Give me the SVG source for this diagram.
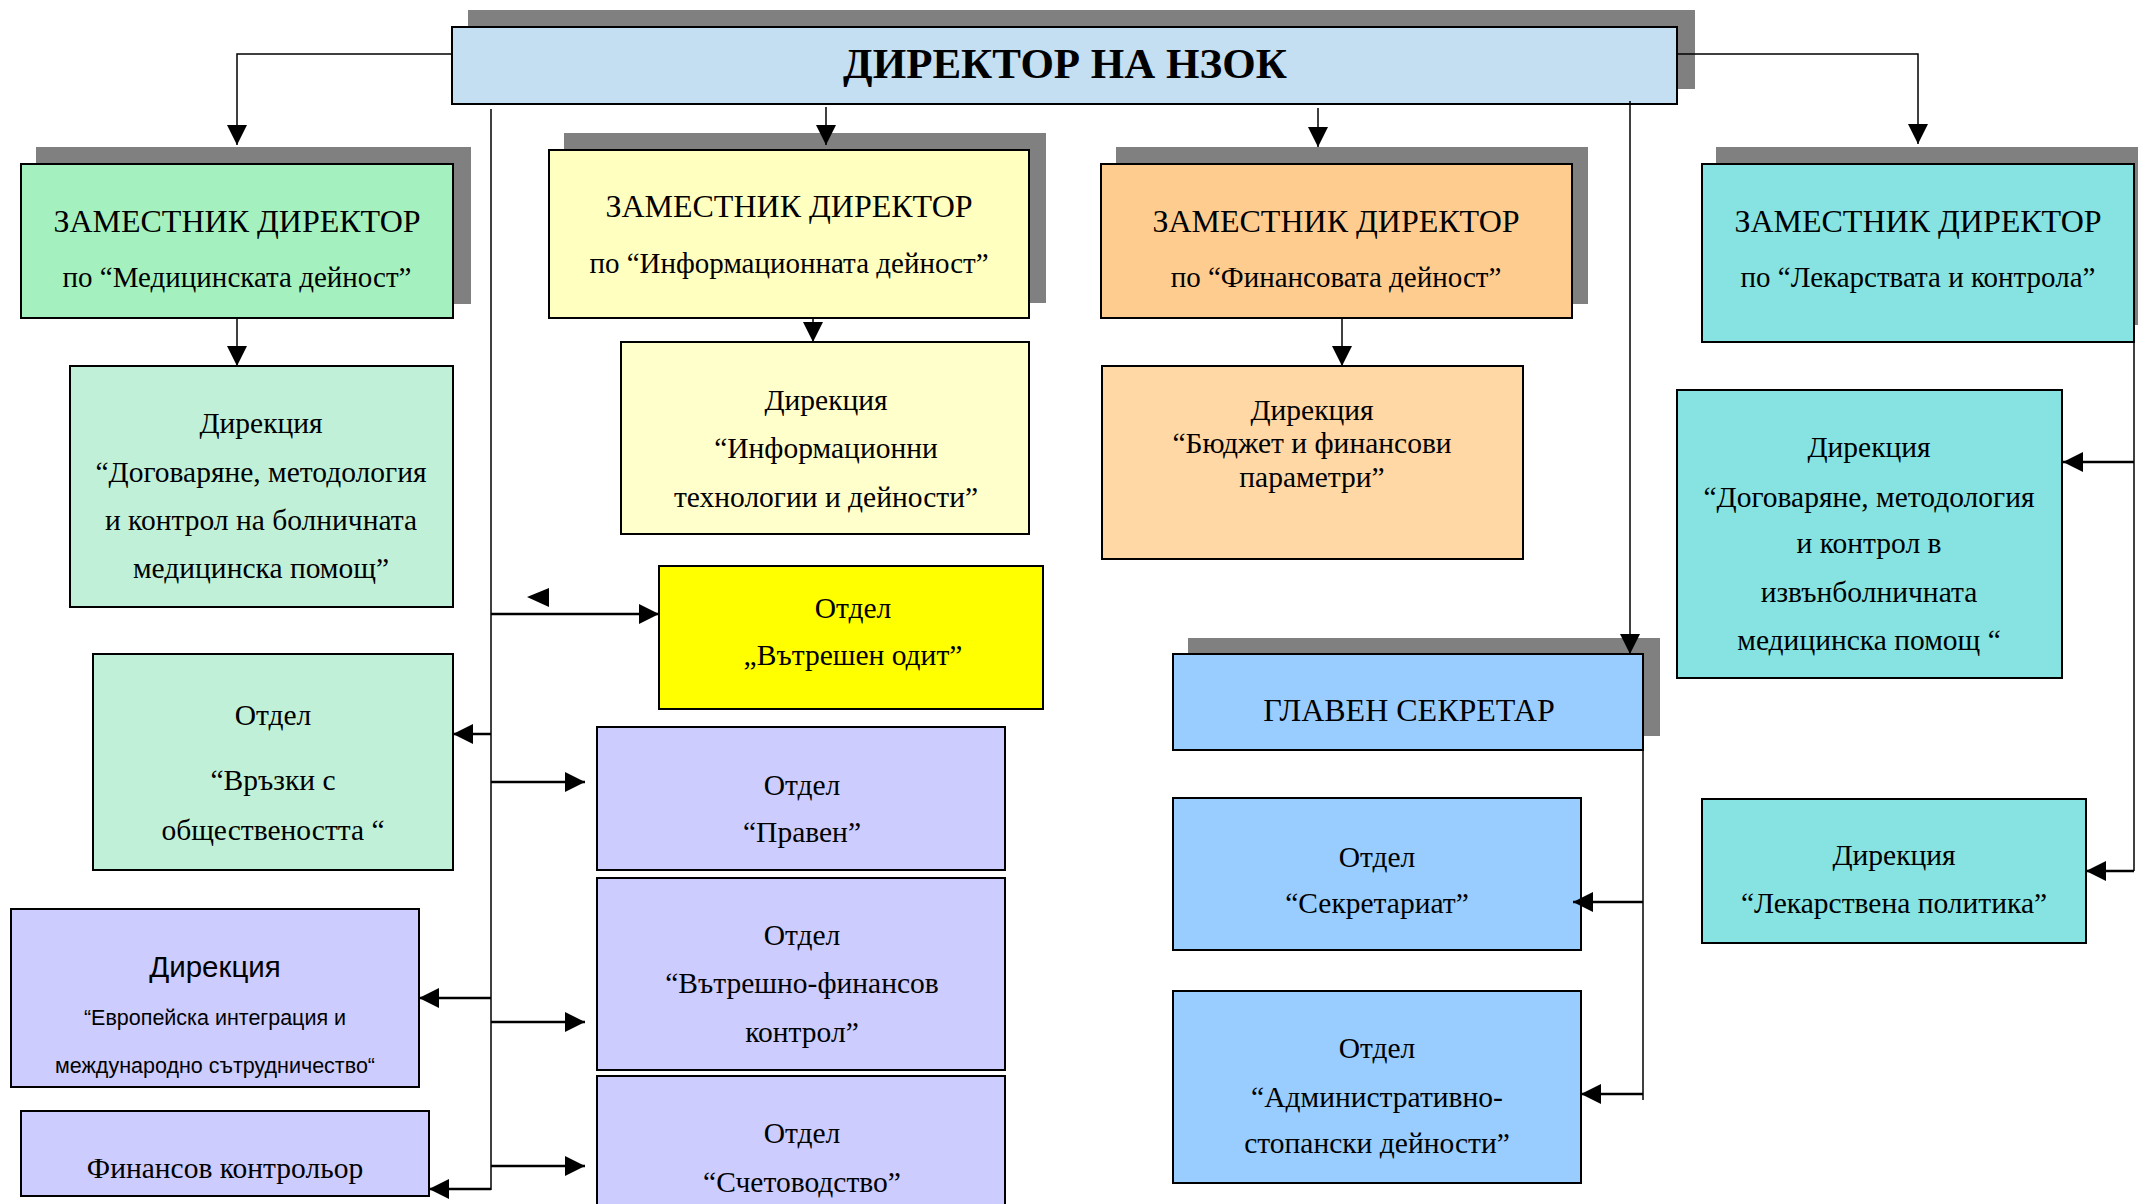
<svg xmlns="http://www.w3.org/2000/svg" width="2138" height="1204" viewBox="0 0 2138 1204">
<defs>
<style>
.shadow{fill:#808080}
.box{stroke:#000;stroke-width:2}
text{font-family:"Liberation Serif","Times New Roman",serif;fill:#000;text-anchor:middle}
.t1{font-size:43px;font-weight:bold}
.t2{font-size:32px}
.t3{font-size:29px}
.t4{font-size:29.5px}
.s1{font-family:"Liberation Sans",Arial,sans-serif;font-size:29.5px}
.s2{font-family:"Liberation Sans",Arial,sans-serif;font-size:21.5px}
.thin{fill:none;stroke:#000;stroke-width:1.5}
.thick{fill:none;stroke:#000;stroke-width:2.5}
</style>
<marker id="ah" viewBox="0 0 20 20" refX="20" refY="10" markerWidth="20" markerHeight="20" markerUnits="userSpaceOnUse" orient="auto"><path d="M0,0 L20,10 L0,20 z" fill="#000"/></marker>
</defs>
<rect width="2138" height="1204" fill="#fff"/>

<g id="director">
<rect class="shadow" x="468" y="10" width="1227" height="79"/>
<rect class="box" x="452" y="27" width="1225" height="77" fill="#C4DEF2"/>
<text class="t1" x="1065" y="78">ДИРЕКТОР НА НЗОК</text>
</g>

<g id="zd-med">
<rect class="shadow" x="36" y="147" width="435" height="157"/>
<rect class="box" x="21" y="164" width="432" height="154" fill="#A5F0BF"/>
<text class="t2" x="237" y="232">ЗАМЕСТНИК ДИРЕКТОР</text>
<text class="t3" x="237" y="287">по “Медицинската дейност”</text>
</g>

<g id="zd-info">
<rect class="shadow" x="564" y="133" width="482" height="170"/>
<rect class="box" x="549" y="150" width="480" height="168" fill="#FFFFC0"/>
<text class="t2" x="789" y="217">ЗАМЕСТНИК ДИРЕКТОР</text>
<text class="t3" x="789" y="273">по “Информационната дейност”</text>
</g>

<g id="zd-fin">
<rect class="shadow" x="1116" y="147" width="472" height="157"/>
<rect class="box" x="1101" y="164" width="471" height="154" fill="#FFCC90"/>
<text class="t2" x="1336" y="232">ЗАМЕСТНИК ДИРЕКТОР</text>
<text class="t3" x="1336" y="287">по “Финансовата дейност”</text>
</g>

<g id="zd-lek">
<rect class="shadow" x="1716" y="147" width="422" height="178"/>
<rect class="box" x="1702" y="164" width="432" height="178" fill="#86E3E1"/>
<text class="t2" x="1918" y="232">ЗАМЕСТНИК ДИРЕКТОР</text>
<text class="t3" x="1918" y="287">по “Лекарствата и контрола”</text>
</g>

<g id="dir-bolnichna">
<rect class="box" x="70" y="366" width="383" height="241" fill="#C0F0D8"/>
<text class="t4" x="261" y="433">Дирекция</text>
<text class="t4" x="261" y="482">“Договаряне, методология</text>
<text class="t4" x="261" y="530">и контрол на болничната</text>
<text class="t4" x="261" y="578">медицинска помощ”</text>
</g>

<g id="dir-it">
<rect class="box" x="621" y="342" width="408" height="192" fill="#FFFFCC"/>
<text class="t4" x="826" y="410">Дирекция</text>
<text class="t4" x="826" y="458">“Информационни</text>
<text class="t4" x="826" y="507">технологии и дейности”</text>
</g>

<g id="dir-budget">
<rect class="box" x="1102" y="366" width="421" height="193" fill="#FFD8A6"/>
<text class="t4" x="1312" y="420">Дирекция</text>
<text class="t4" x="1312" y="453">“Бюджет и финансови</text>
<text class="t4" x="1312" y="487">параметри”</text>
</g>

<g id="dir-izvanbolnichna">
<rect class="box" x="1677" y="390" width="385" height="288" fill="#86E3E1"/>
<text class="t4" x="1869" y="457">Дирекция</text>
<text class="t4" x="1869" y="507">“Договаряне, методология</text>
<text class="t4" x="1869" y="553">и контрол в</text>
<text class="t4" x="1869" y="602">извънболничната</text>
<text class="t4" x="1869" y="650">медицинска помощ “</text>
</g>

<g id="otdel-odit">
<rect class="box" x="659" y="566" width="384" height="143" fill="#FFFF00"/>
<text class="t4" x="853" y="618">Отдел</text>
<text class="t4" x="853" y="665">„Вътрешен одит”</text>
</g>

<g id="otdel-vruzki">
<rect class="box" x="93" y="654" width="360" height="216" fill="#C0F0D8"/>
<text class="t4" x="273" y="725">Отдел</text>
<text class="t4" x="273" y="790">“Връзки с</text>
<text class="t4" x="273" y="840">обществеността “</text>
</g>

<g id="otdel-praven">
<rect class="box" x="597" y="727" width="408" height="143" fill="#CCCCFF"/>
<text class="t4" x="802" y="795">Отдел</text>
<text class="t4" x="802" y="842">“Правен”</text>
</g>

<g id="otdel-vfk">
<rect class="box" x="597" y="878" width="408" height="192" fill="#CCCCFF"/>
<text class="t4" x="802" y="945">Отдел</text>
<text class="t4" x="802" y="993">“Вътрешно-финансов</text>
<text class="t4" x="802" y="1042">контрол”</text>
</g>

<g id="otdel-schet">
<rect class="box" x="597" y="1076" width="408" height="140" fill="#CCCCFF"/>
<text class="t4" x="802" y="1143">Отдел</text>
<text class="t4" x="802" y="1192">“Счетоводство”</text>
</g>

<g id="dir-euro">
<rect class="box" x="11" y="909" width="408" height="178" fill="#CCCCFF"/>
<text class="s1" x="215" y="977">Дирекция</text>
<text class="s2" x="215" y="1025">“Европейска интеграция и</text>
<text class="s2" x="215" y="1073">международно сътрудничество“</text>
</g>

<g id="fin-kontrolyor">
<rect class="box" x="21" y="1111" width="408" height="85" fill="#CCCCFF"/>
<text class="t4" x="225" y="1178">Финансов контрольор</text>
</g>

<g id="glaven-sekretar">
<rect class="shadow" x="1188" y="638" width="472" height="98"/>
<rect class="box" x="1173" y="654" width="470" height="96" fill="#99CCFF"/>
<text class="t2" x="1409" y="721">ГЛАВЕН СЕКРЕТАР</text>
</g>

<g id="otdel-sekretariat">
<rect class="box" x="1173" y="798" width="408" height="152" fill="#99CCFF"/>
<text class="t4" x="1377" y="867">Отдел</text>
<text class="t4" x="1377" y="913">“Секретариат”</text>
</g>

<g id="otdel-asd">
<rect class="box" x="1173" y="991" width="408" height="192" fill="#99CCFF"/>
<text class="t4" x="1377" y="1058">Отдел</text>
<text class="t4" x="1377" y="1107">“Административно-</text>
<text class="t4" x="1377" y="1153">стопански дейности”</text>
</g>

<g id="dir-lek-politika">
<rect class="box" x="1702" y="799" width="384" height="144" fill="#86E3E1"/>
<text class="t4" x="1894" y="865">Дирекция</text>
<text class="t4" x="1894" y="913">“Лекарствена политика”</text>
</g>

<g id="connectors">
<path class="thin" d="M452,54 H237 V145" marker-end="url(#ah)"/>
<path class="thin" d="M826,107 V145" marker-end="url(#ah)"/>
<path class="thin" d="M1318,108 V147" marker-end="url(#ah)"/>
<path class="thin" d="M1677,54 H1918 V144" marker-end="url(#ah)"/>
<path class="thin" d="M237,318 V366" marker-end="url(#ah)"/>
<path class="thin" d="M813,318 V342" marker-end="url(#ah)"/>
<path class="thin" d="M1342,318 V366" marker-end="url(#ah)"/>
<path class="thin" d="M491,109 V1190"/>
<path class="thick" d="M491,614 H659" marker-end="url(#ah)"/>
<path class="thick" d="M491,734 H453" marker-end="url(#ah)"/>
<path class="thick" d="M491,782 H585" marker-end="url(#ah)"/>
<path class="thick" d="M491,998 H419" marker-end="url(#ah)"/>
<path class="thick" d="M491,1022 H585" marker-end="url(#ah)"/>
<path class="thick" d="M491,1166 H585" marker-end="url(#ah)"/>
<path class="thick" d="M491,1189 H429" marker-end="url(#ah)"/>
<polygon points="527,597 549,588 549,607" fill="#000"/>
<path class="thin" d="M1630,101 V654" marker-end="url(#ah)"/>
<path class="thin" d="M1643,750 V1100"/>
<path class="thick" d="M1643,902 H1573" marker-end="url(#ah)"/>
<path class="thick" d="M1643,1094 H1581" marker-end="url(#ah)"/>
<path class="thin" d="M2134,342 V871"/>
<path class="thick" d="M2134,462 H2063" marker-end="url(#ah)"/>
<path class="thick" d="M2134,871 H2086" marker-end="url(#ah)"/>
</g>
</svg>
